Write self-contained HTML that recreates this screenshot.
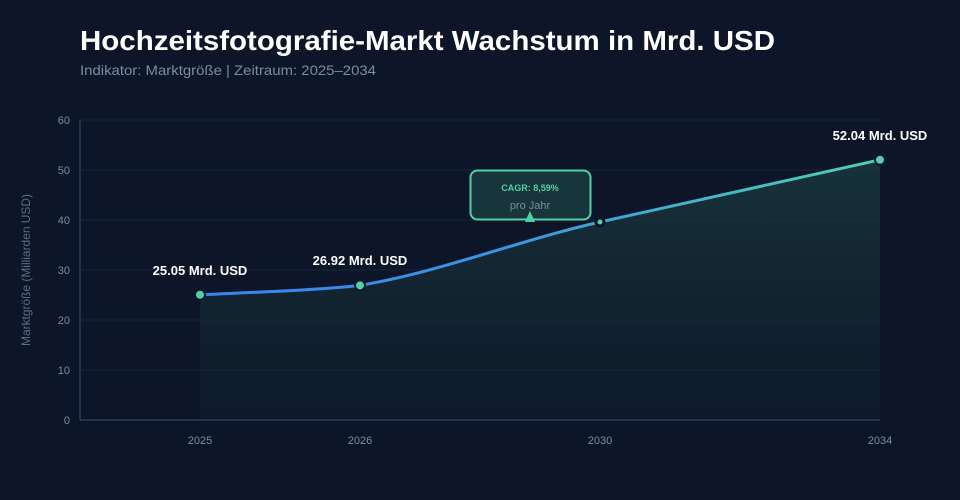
<!DOCTYPE html>
<html><head><meta charset="utf-8"><style>
html,body{margin:0;padding:0;background:#0c1628;}
svg{display:block;font-family:"Liberation Sans",sans-serif;}
</style></head><body>
<svg width="960" height="500" viewBox="0 0 960 500" xmlns="http://www.w3.org/2000/svg">
<defs>
<linearGradient id="ln" x1="200" y1="0" x2="880" y2="0" gradientUnits="userSpaceOnUse">
<stop offset="0" stop-color="#3b82f0"/><stop offset="0.45" stop-color="#3a95e0"/><stop offset="1" stop-color="#4fd1ae"/></linearGradient>
<linearGradient id="ar" x1="0" y1="160" x2="0" y2="420" gradientUnits="userSpaceOnUse">
<stop offset="0" stop-color="#1a3a40" stop-opacity="0.8"/><stop offset="1" stop-color="#13242e" stop-opacity="0.3"/></linearGradient>
</defs>
<rect width="960" height="500" fill="#0c1628"/>
<text x="80" y="50" font-size="28" font-weight="bold" fill="#ffffff" textLength="695" lengthAdjust="spacingAndGlyphs">Hochzeitsfotografie-Markt Wachstum in Mrd. USD</text>
<text x="80" y="75" font-size="14" fill="#7d8ba0" textLength="296" lengthAdjust="spacingAndGlyphs">Indikator: Marktgröße | Zeitraum: 2025–2034</text>
<g stroke="#16253a" stroke-width="1">
<line x1="80" y1="120" x2="880" y2="120"/><line x1="80" y1="170" x2="880" y2="170"/>
<line x1="80" y1="220" x2="880" y2="220"/><line x1="80" y1="270" x2="880" y2="270"/>
<line x1="80" y1="320" x2="880" y2="320"/><line x1="80" y1="370" x2="880" y2="370"/>
</g>
<path d="M200,294.75 C260,292 320,290 360,285.4 C440,272 520,240 600,222 C700,200 800,178 880,159.8 L880,420 L200,420 Z" fill="url(#ar)"/>
<line x1="80" y1="120" x2="80" y2="420" stroke="#2a3d5c" stroke-width="1.5"/>
<line x1="80" y1="420" x2="880" y2="420" stroke="#2a3d5c" stroke-width="1.5"/>
<g font-size="11" fill="#7d8ba0" text-anchor="end">
<text x="70" y="124">60</text><text x="70" y="174">50</text><text x="70" y="224">40</text>
<text x="70" y="274">30</text><text x="70" y="324">20</text><text x="70" y="374">10</text><text x="70" y="424">0</text>
</g>
<g font-size="11" fill="#7d8ba0" text-anchor="middle">
<text x="200" y="444">2025</text><text x="360" y="444">2026</text><text x="600" y="444">2030</text><text x="880" y="444">2034</text>
</g>
<text transform="translate(30,270) rotate(-90)" font-size="12" fill="#5d6c82" text-anchor="middle" textLength="152" lengthAdjust="spacingAndGlyphs">Marktgröße (Milliarden USD)</text>
<path d="M200,294.75 C260,292 320,290 360,285.4 C440,272 520,240 600,222 C700,200 800,178 880,159.8" fill="none" stroke="url(#ln)" stroke-width="3"/>
<circle cx="200" cy="294.75" r="5" fill="#4fd1a5" stroke="#0c1628" stroke-width="2"/>
<circle cx="360" cy="285.4" r="5" fill="#4fd1a5" stroke="#0c1628" stroke-width="2"/>
<circle cx="600" cy="222" r="4" fill="#4fd1a5" stroke="#0c1628" stroke-width="3"/>
<circle cx="880" cy="159.8" r="5" fill="#4fd1a5" stroke="#0c1628" stroke-width="2"/>
<g font-size="13" font-weight="bold" fill="#ffffff" text-anchor="middle">
<text x="200" y="275">25.05 Mrd. USD</text>
<text x="360" y="265">26.92 Mrd. USD</text>
<text x="880" y="140">52.04 Mrd. USD</text>
</g>
<rect x="470.5" y="170.5" width="120" height="49" rx="7" fill="#17353b" stroke="#4fd1a5" stroke-width="2"/>
<text x="530" y="191" font-size="9" font-weight="bold" fill="#4fd1a5" text-anchor="middle">CAGR: 8,59%</text>
<text x="530" y="209" font-size="11" fill="#7d8ba0" text-anchor="middle">pro Jahr</text>
<path d="M525,222 L530,211 L535,222 Z" fill="#4fd1a5"/>
</svg>
</body></html>
